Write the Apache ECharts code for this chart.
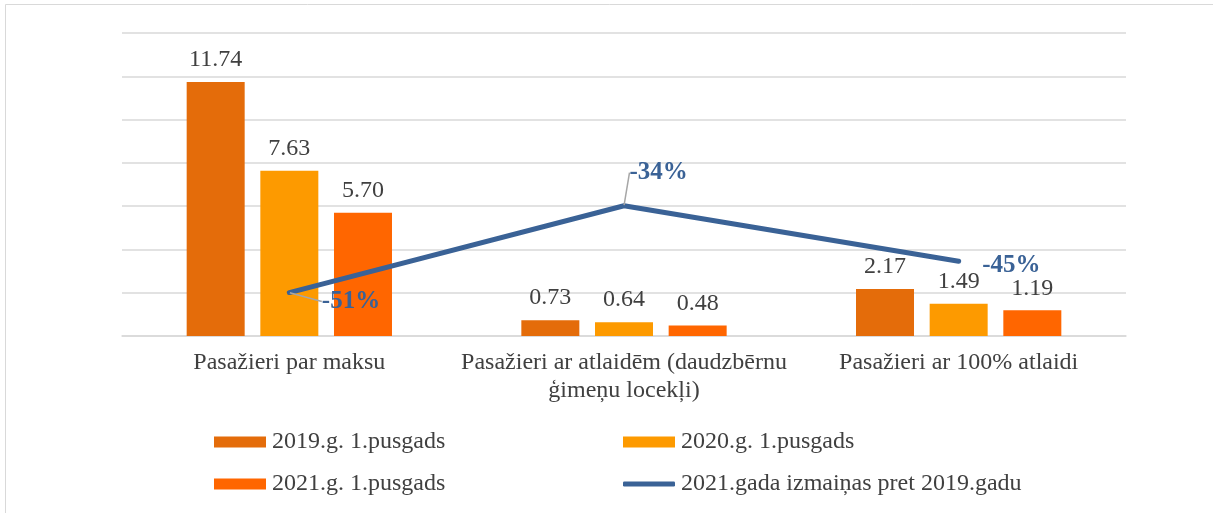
<!DOCTYPE html>
<html>
<head>
<meta charset="utf-8">
<script src="https://cdn.jsdelivr.net/npm/echarts@6/dist/echarts.min.js"></script>
<style>
  html, body { margin: 0; padding: 0; background: #fff; }
  #main { width: 1213px; height: 513px; }
</style>
</head>
<body>
<div id="main"></div>
<script>
// dati
var categories = ['Pasažieri par maksu', 'Pasažieri ar atlaidēm (daudzbērnu\nģimeņu locekļi)', 'Pasažieri ar 100% atlaidi']
var seriesNames = ['2019.g. 1.pusgads', '2020.g. 1.pusgads', '2021.g. 1.pusgads', '2021.gada izmaiņas pret 2019.gadu']
var values2019 = [11.74, 0.73, 2.17]
var values2020 = [7.63, 0.64, 1.49]
var values2021 = [5.70, 0.48, 1.19]
var changePct = [-51.4, -34.2, -45.2]

var barColors = ['#E46C0A', '#FD9A00', '#FF6600']
var lineColor = '#3A6296'
var font = "'Liberation Serif', 'Times New Roman', serif"

var chart = echarts.init(document.getElementById('main'))

function barSeries(name, data, color) {
  return {
    name: name,
    type: 'bar',
    data: data,
    barWidth: 58,
    barGap: '27%',
    itemStyle: { color: color },
    label: {
      show: true,
      position: 'top',
      distance: 10,
      formatter: function (p) { return p.value.toFixed(2) },
      fontFamily: font,
      fontSize: 24,
      color: '#404040'
    }
  }
}

// label offsets for the line (labels moved by hand in the original)
var lineLabelShift = [[27, 9], [0, -33], [18, 4]]

chart.setOption({
  animation: false,
  backgroundColor: '#fff',
  graphic: [{
    type: 'rect',
    shape: { x: 5.5, y: 4.5, width: 1300, height: 600 },
    style: { fill: 'none', stroke: '#D9D9D9', lineWidth: 1 },
    silent: true
  }],
  grid: { left: 122, right: 87, top: 33, bottom: 177 },
  legend: [
    { data: [seriesNames[0]], left: 214, top: 430 },
    { data: [seriesNames[1]], left: 623, top: 430 },
    { data: [seriesNames[2]], left: 214, top: 472 },
    { data: [seriesNames[3]], left: 623, top: 472, itemHeight: 5, icon: 'roundRect' }
  ].map(function (l) {
    return Object.assign({
      orient: 'horizontal',
      padding: 0,
      itemWidth: 52,
      itemHeight: 11,
      icon: 'rect',
      textStyle: { fontFamily: font, fontSize: 24, color: '#404040', padding: [0, 0, 0, 1] }
    }, l)
  }),
  xAxis: {
    type: 'category',
    data: categories,
    axisLine: { lineStyle: { color: '#D9D9D9', width: 1.5 } },
    axisTick: { show: false },
    axisLabel: {
      margin: 13,
      fontFamily: font,
      fontSize: 24,
      lineHeight: 28,
      color: '#404040',
      interval: 0
    }
  },
  yAxis: [{
    type: 'value',
    min: 0,
    max: 14,
    interval: 2,
    axisLabel: { show: false },
    axisLine: { show: false },
    axisTick: { show: false },
    splitLine: { lineStyle: { color: '#D9D9D9', width: 1.5 } }
  }, {
    type: 'value',
    min: -60,
    max: 0,
    show: false,
    splitLine: { show: false }
  }],
  series: [
    barSeries(seriesNames[0], values2019, barColors[0]),
    barSeries(seriesNames[1], values2020, barColors[1]),
    barSeries(seriesNames[2], values2021, barColors[2]),
    {
      name: seriesNames[3],
      type: 'line',
      yAxisIndex: 1,
      data: changePct.map(function (v, i) {
        return i === 2 ? { value: v, labelLine: { show: false } } : v
      }),
      symbol: 'circle',
      symbolSize: 1,
      lineStyle: { color: lineColor, width: 5, cap: 'round', join: 'round' },
      itemStyle: { color: lineColor },
      label: {
        show: true,
        position: 'right',
        distance: 5,
        formatter: function (p) { return Math.round(p.value) + '%' },
        fontFamily: font,
        fontSize: 25,
        fontWeight: 'bold',
        color: lineColor
      },
      labelLine: {
        show: true,
        lineStyle: { color: '#A6A6A6', width: 1.5 }
      },
      labelLayout: function (p) {
        var s = lineLabelShift[p.dataIndex]
        return { dx: s[0], dy: s[1] }
      },
      z: 5
    }
  ]
})
</script>
</body>
</html>
